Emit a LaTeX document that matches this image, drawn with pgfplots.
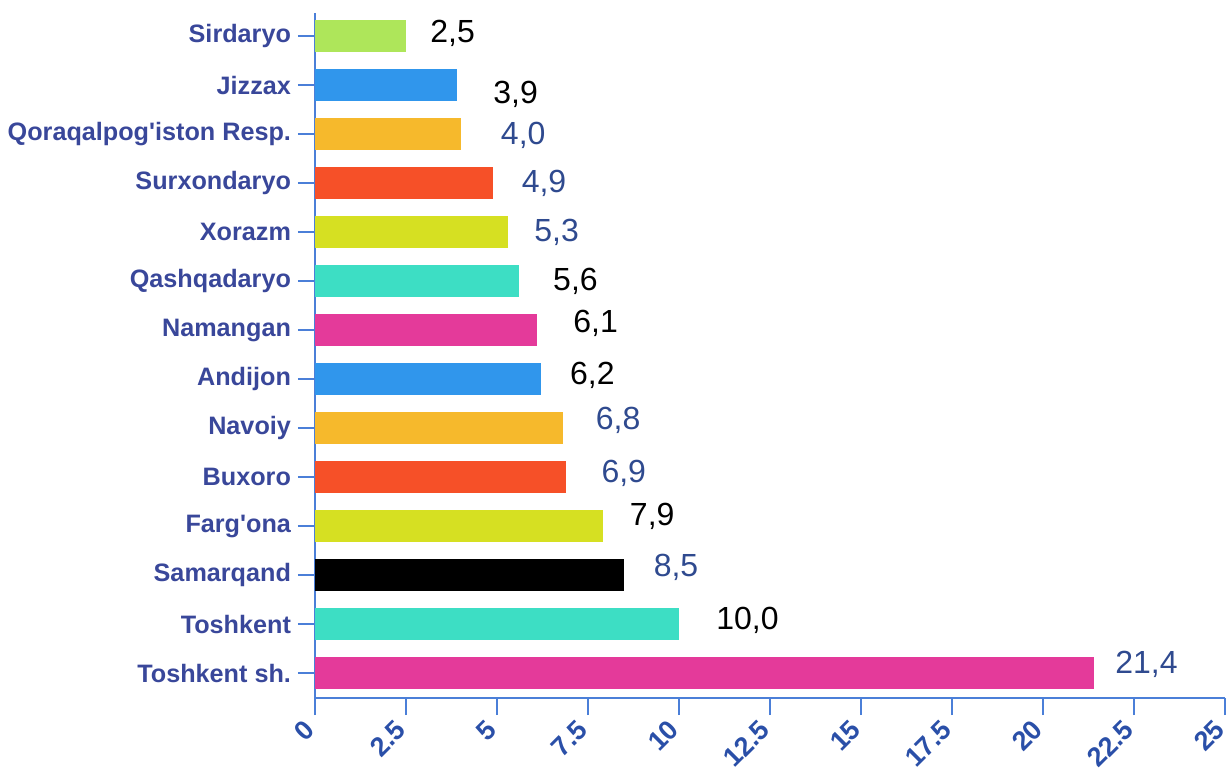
\documentclass[border=0pt]{standalone}
\usepackage{pgfplots}
\pgfplotsset{compat=1.18}
\usepackage{fontspec}
\setmainfont{Liberation Sans}
\definecolor{axblue}{HTML}{4B7FD8}
\definecolor{ylab}{HTML}{39479A}
\definecolor{xlab}{HTML}{2A4FA8}
\definecolor{vblue}{HTML}{2F4A8F}
\definecolor{cgreen}{HTML}{AEE65A}
\definecolor{cblue}{HTML}{3096EC}
\definecolor{corange}{HTML}{F6B92C}
\definecolor{cred}{HTML}{F65028}
\definecolor{cyell}{HTML}{D6E022}
\definecolor{cturq}{HTML}{3DDEC4}
\definecolor{cpink}{HTML}{E43A9A}
\pgfplotsset{
  vlab/.style 2 args={nodes near coords={\pgfmathprintnumber[fixed,fixed zerofill,precision=1,use comma]{\pgfplotspointmeta}},
    every node near coord/.append style={anchor=west, inner sep=0pt, font=\fontsize{16}{18}\selectfont, xshift=#1, yshift=#2}},
}
\begin{document}
\begin{tikzpicture}
\useasboundingbox (-157.5pt,-34.5pt) rectangle (457.5pt,349pt);
\begin{axis}[
  at={(0,0)}, anchor=south west,
  scale only axis, width=455pt, height=342.5pt,
  xmin=0, xmax=25, ymin=-0.51, ymax=13.47,
  axis x line*=bottom, axis y line*=left,
  axis line style={-, draw=axblue, line width=1pt},
  xtick={0,2.5,...,25},
  ytick={0,...,13},
  yticklabels={Toshkent sh.,Toshkent,Samarqand,Farg\textquotesingle ona,Buxoro,Navoiy,Andijon,Namangan,Qashqadaryo,Xorazm,Surxondaryo,Qoraqalpog\textquotesingle iston Resp.,Jizzax,Sirdaryo},
  tick align=outside,
  major tick length=8.5pt,
  tick style={draw=axblue, line width=0.8pt},
  /pgf/number format/assume math mode=true,
  yticklabel style={font=\fontsize{12.6}{15}\selectfont\bfseries, text=ylab},
  xticklabel shift=2.5pt,
  xticklabel style={font=\fontsize{13.5}{16}\selectfont\bfseries, text=xlab, rotate=45, anchor=east},
  xbar, bar shift=0pt, bar width=16pt,
  point meta=x,
  clip=false,
]
\addplot[fill=cgreen, draw=none, vlab={12pt}{1.5pt}] coordinates {(2.5,13)};
\addplot[fill=cblue, draw=none, vlab={18pt}{-4.5pt}] coordinates {(3.9,12)};
\addplot[fill=corange, draw=none, vlab={20pt}{-0.5pt}, every node near coord/.append style={text=vblue}] coordinates {(4.0,11)};
\addplot[fill=cred, draw=none, vlab={14pt}{0pt}, every node near coord/.append style={text=vblue}] coordinates {(4.9,10)};
\addplot[fill=cyell, draw=none, vlab={13pt}{0pt}, every node near coord/.append style={text=vblue}] coordinates {(5.3,9)};
\addplot[fill=cturq, draw=none, vlab={17pt}{0pt}] coordinates {(5.6,8)};
\addplot[fill=cpink, draw=none, vlab={18pt}{3.5pt}] coordinates {(6.1,7)};
\addplot[fill=cblue, draw=none, vlab={14.5pt}{2pt}] coordinates {(6.2,6)};
\addplot[fill=corange, draw=none, vlab={16.5pt}{4pt}, every node near coord/.append style={text=vblue}] coordinates {(6.8,5)};
\addplot[fill=cred, draw=none, vlab={17.5pt}{2pt}, every node near coord/.append style={text=vblue}] coordinates {(6.9,4)};
\addplot[fill=cyell, draw=none, vlab={13.5pt}{5pt}] coordinates {(7.9,3)};
\addplot[fill=black, draw=none, vlab={14.5pt}{4pt}, every node near coord/.append style={text=vblue}] coordinates {(8.5,2)};
\addplot[fill=cturq, draw=none, vlab={18.5pt}{2pt}] coordinates {(10.0,1)};
\addplot[fill=cpink, draw=none, vlab={10.5pt}{4.5pt}, every node near coord/.append style={text=vblue}] coordinates {(21.4,0)};
\end{axis}
\end{tikzpicture}
\end{document}
